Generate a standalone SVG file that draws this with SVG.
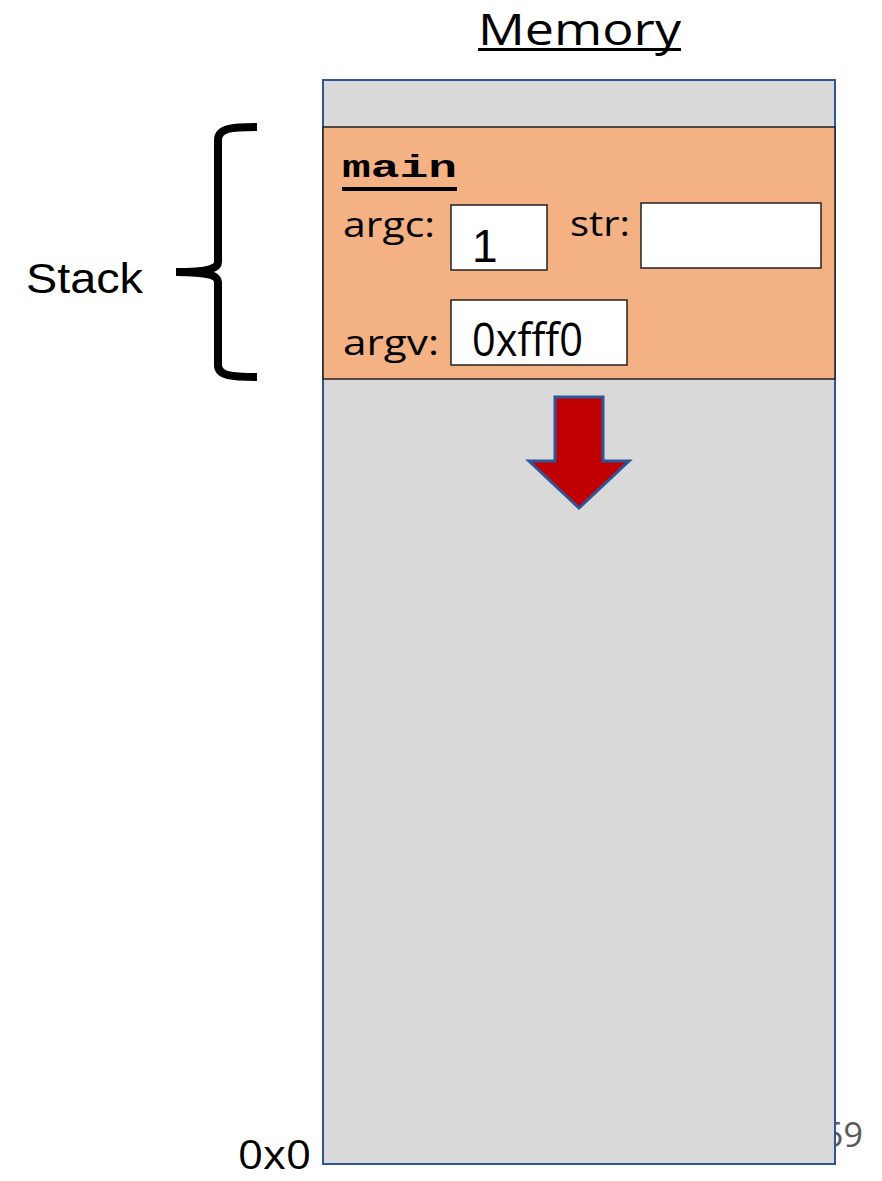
<svg xmlns="http://www.w3.org/2000/svg" width="882" height="1181" viewBox="0 0 882 1181">
<style>
.lbl{font-family:"Open Sans","Noto Sans",sans-serif;fill:#000}
.val{font-family:"Liberation Sans",Arial,sans-serif;fill:#000}
.box{fill:#fff;stroke:#222;stroke-width:1.5}
</style>
<rect width="882" height="1181" fill="#fff"/>
<g id="title">
<text x="478" y="45" class="lbl" font-size="44" textLength="203" lengthAdjust="spacingAndGlyphs">Memory</text>
<rect x="478" y="48" width="203" height="3" fill="#000"/>
</g>
<g id="page-number">
<text x="824" y="1147" font-family="'Open Sans','Noto Sans',sans-serif" font-size="34" fill="#595959">59</text>
</g>
<g id="memory">
<rect x="323" y="80" width="512" height="1084" fill="#d9d9d9" stroke="#2f5597" stroke-width="2"/>
</g>
<g id="main-frame">
<rect x="323" y="127" width="512" height="252" fill="#f4b183" stroke="#222" stroke-width="1.5"/>
<text x="342" y="177" font-family="'Liberation Mono','Courier New',monospace" font-weight="bold" font-size="32" textLength="115" lengthAdjust="spacingAndGlyphs">main</text>
<rect x="342" y="187" width="115" height="4" fill="#000"/>
<text x="343" y="237" class="lbl" font-size="34" textLength="92" lengthAdjust="spacingAndGlyphs">argc:</text>
<rect x="451" y="205" width="96" height="65" class="box"/>
<text x="472" y="262" class="val" font-size="46">1</text>
<text x="570" y="236" class="lbl" font-size="34" textLength="60" lengthAdjust="spacingAndGlyphs">str:</text>
<rect x="641" y="203" width="180" height="65" class="box"/>
<text x="343" y="355" class="lbl" font-size="34" textLength="96" lengthAdjust="spacingAndGlyphs">argv:</text>
<rect x="451" y="300" width="176" height="65" class="box"/>
<text x="472" y="356" class="lbl" font-size="45" textLength="111" lengthAdjust="spacingAndGlyphs">0xfff0</text>
</g>
<g id="stack-label">
<text x="26" y="293" class="val" font-size="42" textLength="117" lengthAdjust="spacingAndGlyphs">Stack</text>
<path d="M257,127 C232,127 218,128 218,140 L218,262 C218,268 210,272 176,272 C210,272 218,276 218,282 L218,365 C218,376 232,377 257,377" fill="none" stroke="#000" stroke-width="8"/>
</g>
<g id="connectors">
<polygon points="555,397 603,397 603,461 629,461 579,508 529,461 555,461" fill="#c00000" stroke="#2f5597" stroke-width="3" stroke-linejoin="miter"/>
</g>
<g id="addr">
<text x="238" y="1169" class="lbl" font-size="41" textLength="73" lengthAdjust="spacingAndGlyphs">0x0</text>
</g>
</svg>
